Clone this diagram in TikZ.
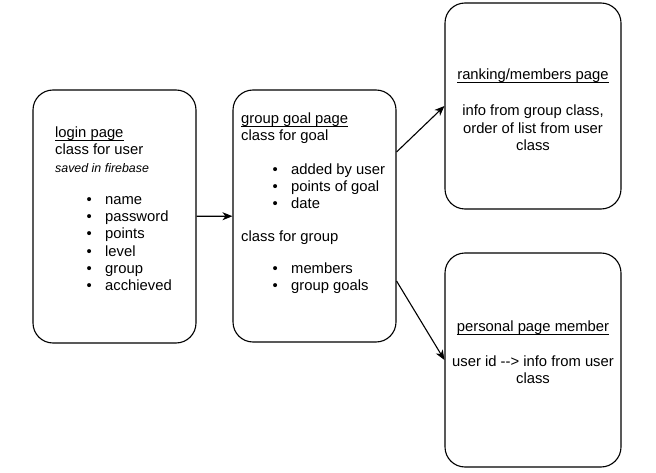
\documentclass[tikz,border=0pt]{standalone}
\usepackage{fontspec}
\setmainfont{Liberation Sans}
\usetikzlibrary{arrows.meta}

\newcommand{\bitem}[1]{\hspace*{31.5pt}\makebox[18.5pt][l]{\textbullet}#1}
\newcommand{\uln}[1]{\setbox0\hbox{#1}\rlap{\rule[-3pt]{\wd0}{0.9pt}}\box0}

\begin{document}
\begin{tikzpicture}[x=1pt,y=-1pt,font=\fontsize{14.8}{17.3}\selectfont,
    page/.style={draw, line width=1.1pt, rounded corners=20pt},
    arrow/.style={line width=1.1pt, -{Stealth[length=10pt,width=8pt,inset=3pt]}}]

      \useasboundingbox (0,0) rectangle (656,473);

      \begin{scope}[every node/.style={page}]
        \node[minimum width=163pt, minimum height=253pt] (login)    at (114.5,216.5) {};
        \node[minimum width=163pt, minimum height=252pt] (goal)     at (314.5,216)   {};
        \node[minimum width=176pt, minimum height=206pt] (ranking)  at (533,106)     {};
        \node[minimum width=176pt, minimum height=214pt] (personal) at (533,360)     {};
      \end{scope}

      \begin{scope}[every node/.style={inner sep=0pt, align=left, anchor=north west}]
        \node (logintext) at (55,126.5) {\uln{login page}\\
          class for user\\
          {\itshape\fontsize{12.4}{17.3}\selectfont saved in firebase}\\[15pt]
          \bitem{name}\\ \bitem{password}\\ \bitem{points}\\
          \bitem{level}\\ \bitem{group}\\ \bitem{acchieved}};
        \node (goaltext) at (241,112.5) {\uln{group goal page}\\
          class for goal\\[16pt]
          \bitem{added by user}\\ \bitem{points of goal}\\ \bitem{date}\\[16pt]
          class for group\\[14pt]
          \bitem{members}\\ \bitem{group goals}};
      \end{scope}

      \begin{scope}[every node/.style={inner sep=0pt, align=center, anchor=north}]
        \node (rankingtext) at (533,68.5) {\uln{ranking/members page}\\[19pt]
          info from group class,\\ order of list from user\\ class};
        \node (personaltext) at (533,321) {\uln{personal page member}\\[17pt]
          user id \mbox{-}\mbox{-}> info from user\\ class};
      \end{scope}

      \draw[arrow] (login) -- (goal);
      \draw[arrow] ([yshift=64pt]goal.east) -- (ranking.west);
      \draw[arrow] ([yshift=-65pt]goal.east) -- (personal.west);

    \end{tikzpicture}
\end{document}
